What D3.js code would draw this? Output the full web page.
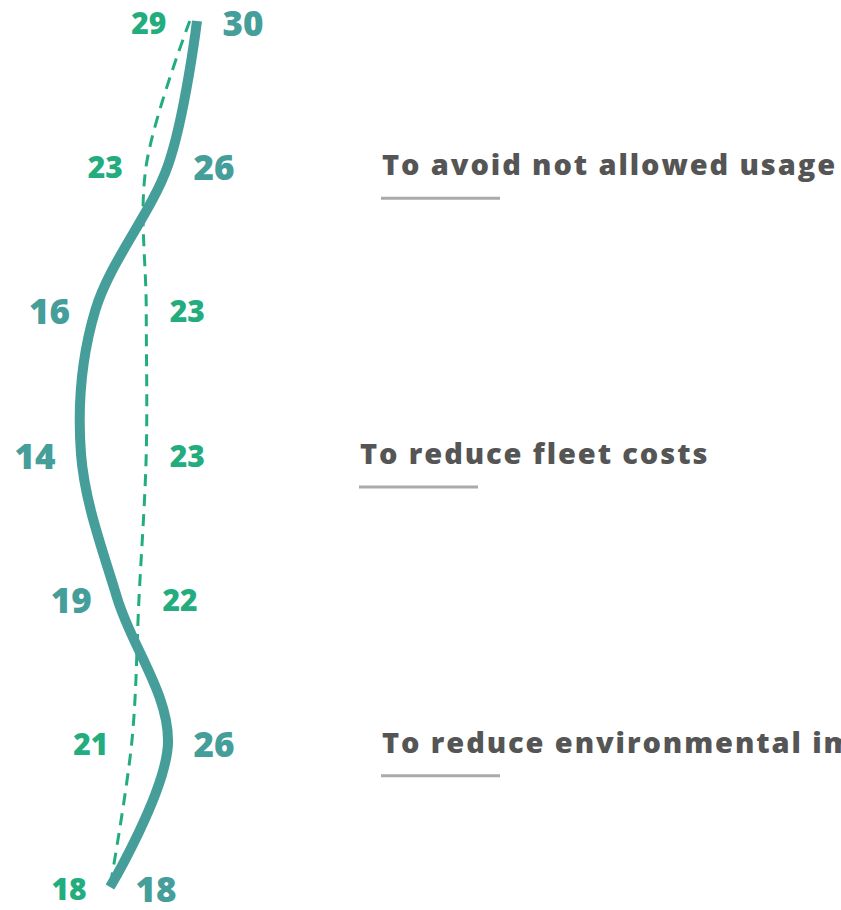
<!DOCTYPE html>
<html>
<head>
<meta charset="utf-8">
<script src="https://cdn.jsdelivr.net/npm/d3@7"></script>
<style>
  body { margin: 0; background: #fff; overflow: hidden; }
  text { font-family: "Open Sans", Lato, sans-serif; font-weight: 800; }
</style>
</head>
<body>
<div id="chart"></div>
<script>
// rows go top to bottom
var rows = [0, 1, 2, 3, 4, 5, 6];
var solidValues = [30, 26, 16, 14, 19, 26, 18];
var dashedValues = [29, 23, 23, 23, 22, 21, 18];
var categories = [
  { row: 1, label: "To avoid not allowed usage" },
  { row: 3, label: "To reduce fleet costs" },
  { row: 5, label: "To reduce environmental impact" }
];

var width = 841, height = 910;

var svg = d3.select("#chart").append("svg")
  .attr("width", width)
  .attr("height", height);

var y = d3.scalePoint().domain(rows).range([21, 887]);
var x = d3.scaleLinear()
  .domain(d3.extent(solidValues.concat(dashedValues)))
  .range([81, 197]);

var line = function(values) {
  return d3.line()
    .x(function(d) { return x(values[d]); })
    .y(function(d) { return y(d); })
    .curve(d3.curveCardinal.tension(0))(rows);
};

// dashed series
svg.append("path")
  .attr("d", line(dashedValues))
  .attr("fill", "none")
  .attr("stroke", "#23ad7f")
  .attr("stroke-width", 3)
  .attr("stroke-dasharray", "12,8");

// solid series
svg.append("path")
  .attr("d", line(solidValues))
  .attr("fill", "none")
  .attr("stroke", "#459e9a")
  .attr("stroke-width", 10);

// labels sit on the side away from the other series
svg.selectAll(".solid-label")
  .data(rows)
  .enter().append("text")
    .attr("class", "solid-label")
    .attr("x", function(d) {
      var side = solidValues[d] >= dashedValues[d] ? 1 : -1;
      return x(solidValues[d]) + side * 46;
    })
    .attr("y", function(d) { return y(d) + 1; })
    .attr("text-anchor", "middle")
    .attr("dominant-baseline", "central")
    .attr("font-size", 35)
    .attr("fill", "#459e9a")
    .text(function(d) { return solidValues[d]; });

svg.selectAll(".dashed-label")
  .data(rows)
  .enter().append("text")
    .attr("class", "dashed-label")
    .attr("x", function(d) {
      var side = solidValues[d] >= dashedValues[d] ? -1 : 1;
      return x(dashedValues[d]) + side * 41;
    })
    .attr("y", function(d) { return y(d) + 1; })
    .attr("text-anchor", "middle")
    .attr("dominant-baseline", "central")
    .attr("font-size", 30)
    .attr("fill", "#23ad7f")
    .text(function(d) { return dashedValues[d]; });

// category captions, alternating indent
var cat = svg.selectAll(".category")
  .data(categories)
  .enter().append("g")
    .attr("class", "category")
    .attr("transform", function(d, i) {
      return "translate(" + (i % 2 ? 360 : 382) + "," + y(d.row) + ")";
    });

cat.append("text")
  .attr("y", 10)
  .attr("font-size", 29)
  .attr("letter-spacing", 1.9)
  .attr("fill", "#555555")
  .text(function(d) { return d.label; });

cat.append("line")
  .attr("x1", -1)
  .attr("x2", 118)
  .attr("y1", 33)
  .attr("y2", 33)
  .attr("stroke", "#aaaaaa")
  .attr("stroke-width", 3);
</script>
</body>
</html>
